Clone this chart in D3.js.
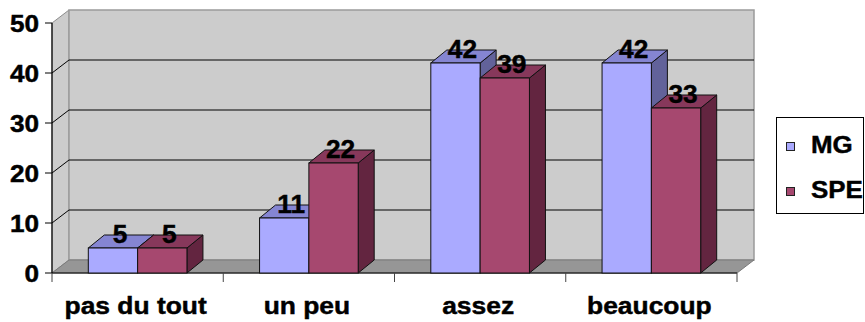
<!DOCTYPE html>
<html>
<head>
<meta charset="utf-8">
<script src="https://cdn.jsdelivr.net/npm/d3@7"></script>
<style>
  html, body { margin: 0; padding: 0; background: #fff; }
  svg { display: block; }
  text { font-family: "Liberation Sans", Arial, sans-serif; font-weight: bold; fill: #000; stroke: #000; stroke-width: 0.45px; }
</style>
</head>
<body>
<svg id="chart" width="865" height="322"></svg>
<script>
// Survey answers per category, two respondent groups
const categories = ["pas du tout", "un peu", "assez", "beaucoup"];
const seriesNames = ["MG", "SPE"];
const mgValues = [5, 11, 42, 42];
const speValues = [5, 22, 39, 33];
const yTicks = [0, 10, 20, 30, 40, 50];

const series = [
  { name: seriesNames[0], values: mgValues, front: "#AAAAFF", top: "#8585D2", side: "#62629A" },
  { name: seriesNames[1], values: speValues, front: "#A6486F", top: "#87385B", side: "#632540" }
];

const svg = d3.select("#chart");

// Front plane of the 3D box
const left = 52, right = 737, bottom = 273, topY = 23;
// Offset from front plane to back wall
const wallDx = 17, wallDy = -13;
// Column depth offset
const barDx = 16, barDy = -13;

const y = d3.scaleLinear().domain([0, 50]).range([bottom, topY]);
const x0 = d3.scaleBand().domain(categories).range([left, right]).padding(0);
const groupWidth = x0.bandwidth() * 0.576;
const x1 = d3.scaleBand().domain(seriesNames).range([0, groupWidth]).padding(0);

const pts = p => p.map(d => d.join(",")).join(" ");

// Bold label, slightly widened horizontally
function label(g, x, yPos, str, anchor, size, sx) {
  return g.append("text")
    .attr("transform", `translate(${x},${yPos}) scale(${sx},1)`)
    .attr("text-anchor", anchor)
    .attr("font-size", size)
    .text(str);
}

// Side wall (left)
svg.append("polygon")
  .attr("points", pts([[left, y(50)], [left + wallDx, y(50) + wallDy], [left + wallDx, y(0) + wallDy], [left, y(0)]]))
  .attr("fill", "#CCCCCC").attr("stroke", "#8C8C8C").attr("stroke-width", 1);

// Back wall
svg.append("rect")
  .attr("x", left + wallDx).attr("y", y(50) + wallDy)
  .attr("width", right - left).attr("height", y(0) - y(50))
  .attr("fill", "#CCCCCC").attr("stroke", "#9A9A9A").attr("stroke-width", 1.5);

// Gridlines on back wall and side wall
const grid = svg.append("g");
yTicks.filter(v => v > 0 && v < 50).forEach(v => {
  grid.append("line")
    .attr("x1", left + wallDx).attr("x2", right + wallDx)
    .attr("y1", y(v) + wallDy).attr("y2", y(v) + wallDy)
    .attr("stroke", "#000").attr("stroke-width", 1);
  grid.append("line")
    .attr("x1", left).attr("x2", left + wallDx)
    .attr("y1", y(v)).attr("y2", y(v) + wallDy)
    .attr("stroke", "#000").attr("stroke-width", 1);
});

// Floor
svg.append("polygon")
  .attr("points", pts([[left, y(0)], [left + wallDx, y(0) + wallDy], [right + wallDx, y(0) + wallDy], [right, y(0)]]))
  .attr("fill", "#969696").attr("stroke", "#7A7A7A").attr("stroke-width", 1);

// Value axis
svg.append("line")
  .attr("x1", left).attr("x2", left).attr("y1", y(50)).attr("y2", y(0))
  .attr("stroke", "#000").attr("stroke-width", 1.2);
const yAxis = svg.append("g");
yTicks.forEach(v => {
  yAxis.append("line")
    .attr("x1", left - 7).attr("x2", left).attr("y1", y(v)).attr("y2", y(v))
    .attr("stroke", "#000").attr("stroke-width", 1);
  label(yAxis, 39, y(v) + 8.5, v, "end", 24, 1.09);
});

// Category axis
svg.append("line")
  .attr("x1", left).attr("x2", right).attr("y1", y(0)).attr("y2", y(0))
  .attr("stroke", "#000").attr("stroke-width", 1.2);
const xTickPos = categories.map(c => x0(c)).concat([right]);
xTickPos.forEach(px => {
  svg.append("line")
    .attr("x1", px).attr("x2", px).attr("y1", y(0)).attr("y2", y(0) + 9)
    .attr("stroke", "#444").attr("stroke-width", 1);
});
const xAxis = svg.append("g");
categories.forEach(c => {
  label(xAxis, x0(c) + x0.bandwidth() / 2 - 2, 314, c, "middle", 24, 1.1);
});

// 3D columns
const bars = svg.append("g");
const valueLabels = [];
categories.forEach((c, i) => {
  const gx = x0(c) + (x0.bandwidth() - groupWidth) / 2;
  series.forEach(s => {
    const v = s.values[i];
    const xl = gx + x1(s.name), xr = xl + x1.bandwidth();
    const yt = y(v), yb = y(0);
    // side face
    bars.append("polygon")
      .attr("points", pts([[xr, yt], [xr + barDx, yt + barDy], [xr + barDx, yb + barDy], [xr, yb]]))
      .attr("fill", s.side).attr("stroke", "#111").attr("stroke-width", 1).attr("stroke-linejoin", "round");
    // top face
    bars.append("polygon")
      .attr("points", pts([[xl, yt], [xl + barDx, yt + barDy], [xr + barDx, yt + barDy], [xr, yt]]))
      .attr("fill", s.top).attr("stroke", "#111").attr("stroke-width", 1).attr("stroke-linejoin", "round");
    // front face
    bars.append("rect")
      .attr("x", xl).attr("y", yt).attr("width", xr - xl).attr("height", yb - yt)
      .attr("fill", s.front).attr("stroke", "#111").attr("stroke-width", 1);
    valueLabels.push({ x: (xl + xr) / 2 + 7, y: yt - 5.5, v });
  });
});

// Value labels
const vl = svg.append("g");
valueLabels.forEach(d => label(vl, d.x, d.y, d.v, "middle", 25.5, 1.03));

// Legend
const legend = svg.append("g");
legend.append("rect")
  .attr("x", 776.5).attr("y", 117.5).attr("width", 87).attr("height", 96)
  .attr("fill", "#fff").attr("stroke", "#000").attr("stroke-width", 1);
series.forEach((s, i) => {
  const cy = 147 + i * 45;
  legend.append("rect")
    .attr("x", 786.5).attr("y", cy - 4.5).attr("width", 8).attr("height", 8)
    .attr("fill", s.front).attr("stroke", "#222").attr("stroke-width", 1);
  label(legend, 811, cy + 6, s.name, "start", 24, 1.08);
});
</script>
</body>
</html>
